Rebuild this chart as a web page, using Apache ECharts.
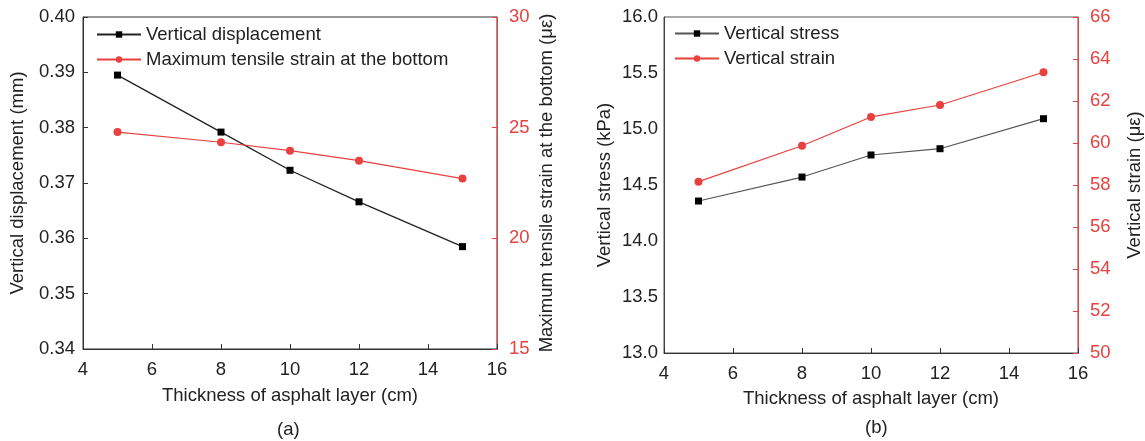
<!DOCTYPE html>
<html>
<head>
<meta charset="utf-8">
<script src="https://cdn.jsdelivr.net/npm/echarts@6/dist/echarts.min.js"></script>
<style>
  html, body { margin: 0; padding: 0; background: #fff; }
  #main { width: 1145px; height: 441px; }
</style>
</head>
<body>
<div id="main"></div>
<script>
// 数据
const thickness = [5, 8, 10, 12, 15];
const displacement = [0.3895, 0.3792, 0.3723, 0.3666, 0.3585];
const tensileStrain = [24.80, 24.34, 23.96, 23.51, 22.70];
const verticalStress = [14.357, 14.571, 14.768, 14.824, 15.092];
const verticalStrain = [58.16, 59.87, 61.24, 61.81, 63.37];

const RED = '#e8413f';
const DARK = '#222';
const FONT = "'Liberation Sans', Arial, sans-serif";
const FS = 18.5;

const pair = (ys) => thickness.map((x, i) => [x, ys[i]]);

let myChart = echarts.init(document.getElementById('main'));

const xAxisBase = {
    type: 'value',
    min: 4,
    max: 16,
    interval: 2,
    name: 'Thickness of asphalt layer (cm)',
    nameLocation: 'middle',
    nameTextStyle: { color: DARK, fontSize: FS, fontFamily: FONT },
    axisLine: { lineStyle: { color: '#333', width: 1 } },
    axisTick: { inside: true, length: 5, lineStyle: { color: '#333' } },
    axisLabel: { color: DARK, fontSize: FS, fontFamily: FONT, margin: 11 },
    splitLine: { show: false }
};

const legendBase = {
    orient: 'vertical',
    padding: 0,
    itemWidth: 44,
    itemHeight: 8,
    itemGap: 6,
    textStyle: { color: DARK, fontSize: FS, fontFamily: FONT, lineHeight: 18 }
};

option = {
    backgroundColor: '#fff',
    animation: false,
    grid: [
        { left: 83, right: 648, top: 17, bottom: 92, show: true, borderColor: '#333', borderWidth: 1 },
        { left: 664, right: 62, top: 17, bottom: 88, show: true, borderColor: '#555', borderWidth: 1 }
    ],
    legend: [
        Object.assign({}, legendBase, { left: 96, top: 25, data: ['Vertical displacement', 'Maximum tensile strain at the bottom'] }),
        Object.assign({}, legendBase, { left: 674, top: 24, data: ['Vertical stress', 'Vertical strain'] })
    ],
    xAxis: [
        Object.assign({}, xAxisBase, { gridIndex: 0, nameGap: 37 }),
        Object.assign({}, xAxisBase, { gridIndex: 1, nameGap: 36 })
    ],
    yAxis: [
        {
            gridIndex: 0, type: 'value', position: 'left',
            min: 0.34, max: 0.40, interval: 0.01,
            name: 'Vertical displacement (mm)', nameLocation: 'middle', nameGap: 56,
            nameTextStyle: { color: DARK, fontSize: FS, fontFamily: FONT },
            axisLine: { show: true, lineStyle: { color: '#333' } },
            axisTick: { show: true, inside: true, length: 5, lineStyle: { color: '#333' } },
            axisLabel: { color: DARK, fontSize: FS, fontFamily: FONT, margin: 8, formatter: v => v.toFixed(2) },
            splitLine: { show: false }
        },
        {
            gridIndex: 0, type: 'value', position: 'right',
            min: 15, max: 30, interval: 5,
            name: 'Maximum tensile strain at the bottom (με)', nameLocation: 'middle', nameGap: 40,
            nameTextStyle: { color: DARK, fontSize: FS, fontFamily: FONT },
            axisLine: { show: true, lineStyle: { color: RED } },
            axisTick: { show: true, inside: true, length: 5, lineStyle: { color: RED } },
            axisLabel: { color: RED, fontSize: FS, fontFamily: FONT, margin: 12 },
            splitLine: { show: false }
        },
        {
            gridIndex: 1, type: 'value', position: 'left',
            min: 13, max: 16, interval: 0.5,
            name: 'Vertical stress (kPa)', nameLocation: 'middle', nameGap: 50,
            nameTextStyle: { color: DARK, fontSize: FS, fontFamily: FONT },
            axisLine: { show: true, lineStyle: { color: '#444' } },
            axisTick: { show: false },
            axisLabel: { color: DARK, fontSize: FS, fontFamily: FONT, margin: 6, formatter: v => v.toFixed(1) },
            splitLine: { show: false }
        },
        {
            gridIndex: 1, type: 'value', position: 'right',
            min: 50, max: 66, interval: 2,
            name: 'Vertical strain (με)', nameLocation: 'middle', nameGap: 47,
            nameTextStyle: { color: DARK, fontSize: FS, fontFamily: FONT },
            axisLine: { show: true, lineStyle: { color: RED } },
            axisTick: { show: true, inside: true, length: 5, lineStyle: { color: RED } },
            axisLabel: { color: RED, fontSize: FS, fontFamily: FONT, margin: 12 },
            splitLine: { show: false }
        }
    ],
    series: [
        {
            name: 'Vertical displacement', type: 'line',
            xAxisIndex: 0, yAxisIndex: 0,
            data: pair(displacement),
            symbol: 'rect', symbolSize: 7,
            itemStyle: { color: '#000' },
            lineStyle: { color: '#222', width: 1.3 }
        },
        {
            name: 'Maximum tensile strain at the bottom', type: 'line',
            xAxisIndex: 0, yAxisIndex: 1,
            data: pair(tensileStrain),
            symbol: 'circle', symbolSize: 8,
            itemStyle: { color: RED },
            lineStyle: { color: RED, width: 1.2 }
        },
        {
            name: 'Vertical stress', type: 'line',
            xAxisIndex: 1, yAxisIndex: 2,
            data: pair(verticalStress),
            symbol: 'rect', symbolSize: 7,
            itemStyle: { color: '#000' },
            lineStyle: { color: '#555', width: 1.2 }
        },
        {
            name: 'Vertical strain', type: 'line',
            xAxisIndex: 1, yAxisIndex: 3,
            data: pair(verticalStrain),
            symbol: 'circle', symbolSize: 8,
            itemStyle: { color: RED },
            lineStyle: { color: RED, width: 1.2 }
        }
    ],
    graphic: [
        { type: 'text', left: 277, top: 420, style: { text: '(a)', fill: DARK, font: "18.5px 'Liberation Sans', Arial" } },
        { type: 'text', left: 865, top: 418, style: { text: '(b)', fill: DARK, font: "18.5px 'Liberation Sans', Arial" } }
    ]
};

myChart.setOption(option);
</script>
</body>
</html>
